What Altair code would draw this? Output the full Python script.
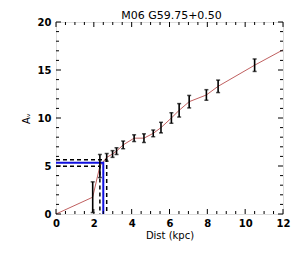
import altair as alt
import pandas as pd

# data
dist = [1.94, 2.32, 2.68, 2.99, 3.20, 3.55, 4.13, 4.65, 5.14, 5.55, 6.10, 6.51, 7.04, 7.95, 8.57, 10.50]
av = [1.75, 5.00, 5.90, 6.25, 6.55, 7.20, 7.90, 7.90, 8.40, 9.00, 10.00, 10.80, 11.70, 12.40, 13.30, 15.50]
err = [1.60, 1.20, 0.40, 0.35, 0.35, 0.40, 0.35, 0.45, 0.35, 0.55, 0.55, 0.70, 0.65, 0.55, 0.65, 0.65]
line_start = (0.0, 0.0)
line_end = (12.0, 17.1)

best_d, lo_d, hi_d = 2.50, 2.32, 2.68
best_a, lo_a, hi_a = 5.35, 4.97, 5.65

title_text = "M06 G59.75+0.50"
x_title = "Dist (kpc)"
y_title = "Aᵥ"
x_major = [0, 2, 4, 6, 8, 10, 12]
x_minor = [v / 2 for v in range(0, 25)]
y_major = [0, 5, 10, 15, 20]
y_minor = list(range(0, 21))

W, H = 227, 192

pts = pd.DataFrame({"d": dist, "a": av, "lo": [a - e for a, e in zip(av, err)],
                    "hi": [a + e for a, e in zip(av, err)]})
ln = pd.DataFrame({"d": [line_start[0]] + dist + [line_end[0]],
                   "a": [line_start[1]] + av + [line_end[1]]})
ln["o"] = range(len(ln))


def box(d, a, name):
    return pd.DataFrame({"d": [0, d, d], "a": [a, a, 0], "o": [0, 1, 2], "g": name})


dash = pd.concat([box(lo_d, lo_a, "lo"), box(hi_d, hi_a, "hi")])
blue = box(best_d, best_a, "best")

xs = alt.Scale(domain=[0, 12], nice=False, zero=False)
ys = alt.Scale(domain=[0, 20], nice=False, zero=False)

AX = alt.Axis(values=x_major, ticks=False, domain=False, grid=False,
              labelOverlap=False, labelFlush=False,
              labelFontSize=10, labelFontWeight="bold", labelPadding=4,
              titleFontSize=10, titleFontWeight="normal", titlePadding=2,
              labelFont="DejaVu Sans", titleFont="DejaVu Sans",
              labelColor="black", titleColor="black", format="d")
AY = alt.Axis(values=y_major, ticks=False, domain=False, grid=False,
              labelOverlap=False, labelFlush=False,
              labelFontSize=10, labelFontWeight="bold", labelPadding=5,
              titleFontSize=10, titleFontWeight="normal", titlePadding=6,
              labelFont="DejaVu Sans", titleFont="DejaVu Sans",
              labelColor="black", titleColor="black", format="d")


def nx(f):
    return alt.X(f, scale=xs, axis=AX, title=x_title)


def ny(f):
    return alt.Y(f, scale=ys, axis=AY, title=y_title)


base = alt.Chart(pts)

line = alt.Chart(ln).mark_line(color="#c06060", strokeWidth=1).encode(
    x=nx("d:Q"), y=ny("a:Q"), order="o:Q")

dashed = alt.Chart(dash).mark_line(color="black", strokeWidth=1.5, strokeDash=[4, 3]).encode(
    x=nx("d:Q"), y=ny("a:Q"), detail="g:N", order="o:Q")
bluel = alt.Chart(blue).mark_line(color="#1010e0", strokeWidth=2).encode(
    x=nx("d:Q"), y=ny("a:Q"), order="o:Q")

bars = base.mark_rule(color="black", strokeWidth=1.6).encode(
    x=nx("d:Q"), y=ny("lo:Q"), y2="hi:Q")
cap_lo = base.mark_tick(color="black", orient="horizontal", size=4, thickness=1.5).encode(
    x=nx("d:Q"), y=ny("lo:Q"))
cap_hi = base.mark_tick(color="black", orient="horizontal", size=4, thickness=1.5).encode(
    x=nx("d:Q"), y=ny("hi:Q"))

# inward ticks on all four sides
xt = pd.DataFrame({"v": x_minor})
xt["len"] = [5 if v in x_major else 3 for v in x_minor]
yt = pd.DataFrame({"v": y_minor})
yt["len"] = [5 if v in y_major else 3 for v in y_minor]


def xticks(df, L, bottom):
    c = alt.Chart(df).mark_rule(color="black", strokeWidth=1)
    if bottom:
        return c.encode(x=nx("v:Q"), y=alt.value(H), y2=alt.value(H - L))
    return c.encode(x=nx("v:Q"), y=alt.value(0), y2=alt.value(L))


def yticks(df, L, left):
    c = alt.Chart(df).mark_rule(color="black", strokeWidth=1)
    if left:
        return c.encode(y=ny("v:Q"), x=alt.value(0), x2=alt.value(L))
    return c.encode(y=ny("v:Q"), x=alt.value(W), x2=alt.value(W - L))


xmaj = xt[xt["len"] == 5]
xmin = xt[xt["len"] == 3]
ymaj = yt[yt["len"] == 5]
ymin = yt[yt["len"] == 3]

ticks = [xticks(xmaj, 5, True), xticks(xmin, 3, True), xticks(xmaj, 5, False), xticks(xmin, 3, False),
         yticks(ymaj, 5, True), yticks(ymin, 3, True), yticks(ymaj, 5, False), yticks(ymin, 3, False)]

title = alt.Chart(pd.DataFrame({"t": [title_text]})).mark_text(
    fontSize=11, font="DejaVu Sans", color="black", align="center", baseline="top").encode(
    text="t:N", x=alt.value(W / 2 + 2), y=alt.value(-12))

chart = alt.layer(line, dashed, bluel, bars, cap_lo, cap_hi, *ticks, title).properties(
    width=W, height=H,
    autosize=alt.AutoSizeParams(type="none"),
    padding={"left": 48, "top": 14, "right": 8, "bottom": 30},
).configure_view(stroke="black", strokeWidth=1.2).configure(background="white")

chart.save("out.html", embed_options={"renderer": "svg", "actions": False})
